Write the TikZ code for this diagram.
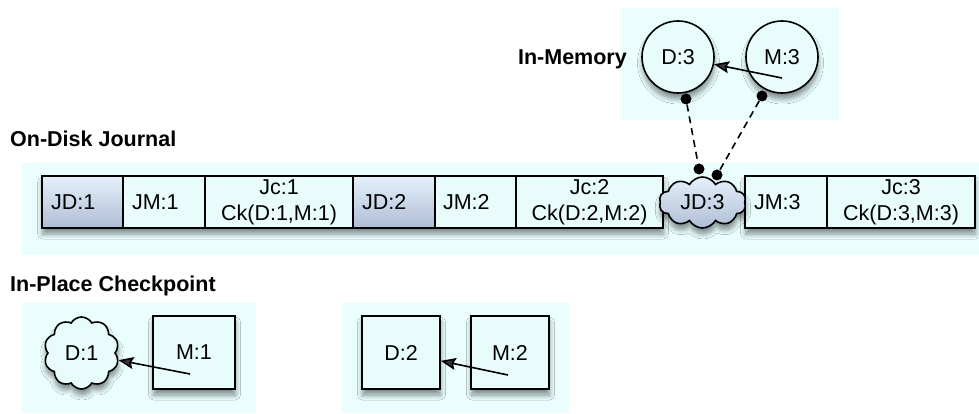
\documentclass[tikz,border=0pt]{standalone}
\usepackage{fontspec}
\setmainfont{Liberation Sans}
\usetikzlibrary{shapes.symbols,shadows.blur,arrows.meta}

\definecolor{panelbg}{RGB}{234,254,254}
\definecolor{cellfill}{RGB}{232,252,252}
\definecolor{shadetop}{RGB}{228,240,250}
\definecolor{shadebot}{RGB}{176,190,214}

\tikzset{
  panel/.style={fill=panelbg, draw=none},
  soft/.style={blur shadow={shadow xshift=0.5pt, shadow yshift=-6pt,
      shadow blur radius=5pt, shadow opacity=45, shadow blur steps=8}},
  boxfont/.style={font=\fontsize{21.5}{26}\selectfont},
  heading/.style={font=\fontsize{21.5}{25}\selectfont\bfseries, inner sep=0pt},
  cell/.style={draw=black, line width=1.6pt, fill=cellfill, boxfont,
      minimum height=52pt, inner ysep=0pt, inner xsep=9pt},
  leftcell/.style={cell, align=left},
  midcell/.style={cell, align=center},
  datacell/.style={leftcell, top color=shadetop, bottom color=shadebot},
  puffy/.style={shape=cloud, cloud puffs=10, cloud puff arc=120,
      cloud ignores aspect, draw=black, line width=1.6pt, inner sep=0pt, boxfont},
  ring/.style={circle, draw=black, line width=1.6pt, fill=cellfill,
      minimum size=72pt, inner sep=0pt, boxfont, soft},
  sqbox/.style={draw=black, line width=1.6pt, fill=cellfill, boxfont,
      minimum height=73pt, inner sep=0pt, soft},
  dot/.style={circle, fill=black, inner sep=0pt, minimum size=11pt},
  arr/.style={-{Stealth[length=15pt, width=12pt, inset=2.5pt]}, line width=1.6pt},
  dashlink/.style={dash pattern=on 7pt off 5pt, line width=1.6pt}
}

\begin{document}
\begin{tikzpicture}[x=1pt, y=-1pt]
  \useasboundingbox (0,0) rectangle (979,414);

  % background panels
  \fill[panel] (621,8) rectangle (839,120);
  \fill[panel] (22,163) rectangle (979,255);
  \fill[panel] (22,303) rectangle (256,413);
  \fill[panel] (342,303) rectangle (569,413);

  % headings
  \node[heading, anchor=base east] (hmem) at (627,65) {In-Memory};
  \node[heading, anchor=base west] (hdisk) at (10,147) {On-Disk Journal};
  \node[heading, anchor=base west] (hplace) at (10,291) {In-Place Checkpoint};

  % shadows under the journal strip
  \path[soft, fill=cellfill] (42,176) rectangle (663,228);
  \path[soft, fill=cellfill] (745,176) rectangle (975,228);

  % journal entries
  \node[datacell, text width=63pt] (jd1) at (82.5,202) {JD:1};
  \node[leftcell, text width=64pt] (jm1) at (164,202) {JM:1};
  \node[midcell, text width=130pt] (jc1) at (279,202) {Jc:1\\Ck(D:1,M:1)};
  \node[datacell, text width=64pt] (jd2) at (394,202) {JD:2};
  \node[leftcell, inner xsep=8pt, text width=65pt] (jm2) at (475.5,202) {JM:2};
  \node[midcell, text width=129pt] (jc2) at (589.5,202) {Jc:2\\Ck(D:2,M:2)};
  \node[leftcell, text width=64pt] (jm3) at (786,202) {JM:3};
  \node[midcell, text width=130pt] (jc3) at (901,202) {Jc:3\\Ck(D:3,M:3)};
  \node[puffy, soft, top color=shadetop, bottom color=shadebot,
        minimum width=87pt, minimum height=51pt] (jd3) at (702.5,202.5) {JD:3};

  % in-memory copies
  \node[ring] (d3) at (678,57) {D:3};
  \node[ring] (m3) at (782,57) {M:3};
  \coordinate (m3tail) at (782,78);
  \draw[arr] (m3tail) -- (d3);

  % links from memory to the journal
  \node[dot] (p1) at (686,99) {};
  \node[dot] (q1) at (699,169) {};
  \node[dot] (p2) at (762,96) {};
  \node[dot] (q2) at (717,175) {};
  \draw[dashlink] (p1) -- (q1);
  \draw[dashlink] (p2) -- (q2);

  % in-place checkpoint, first state
  \node[puffy, soft, fill=cellfill, minimum width=75pt, minimum height=72pt] (d1) at (81.5,353) {D:1};
  \node[sqbox, minimum width=82pt] (m1) at (194,352.5) {M:1};
  \coordinate (m1tail) at (190,374);
  \draw[arr] (m1tail) -- (d1);

  % in-place checkpoint, second state
  \node[sqbox, minimum width=78pt] (d2) at (401,352.5) {D:2};
  \node[sqbox, minimum width=78pt] (m2) at (510,352.5) {M:2};
  \coordinate (m2tail) at (508,375);
  \draw[arr] (m2tail) -- (d2);
\end{tikzpicture}
\end{document}
